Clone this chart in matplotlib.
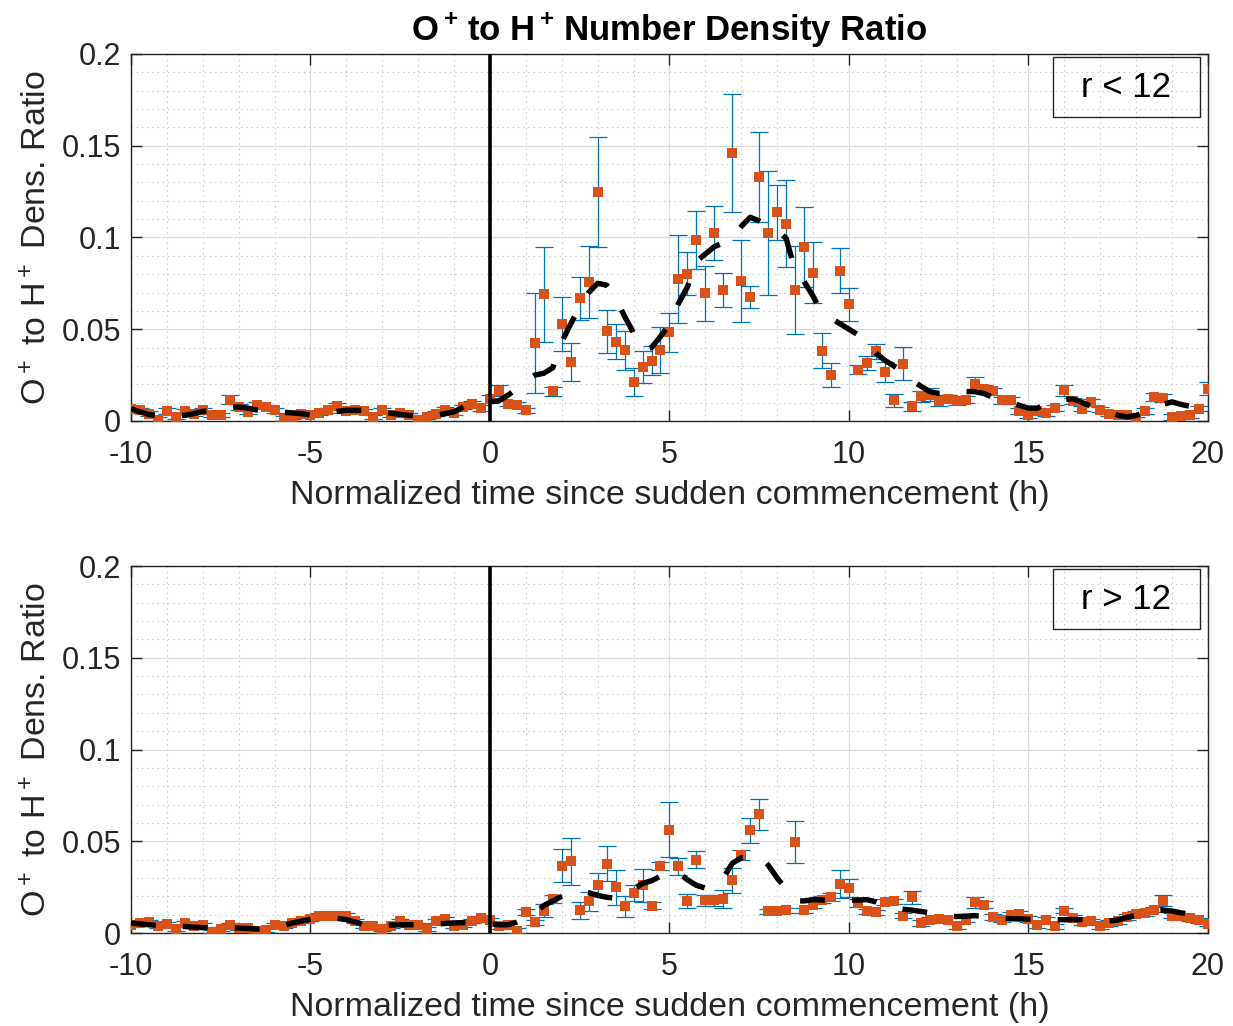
import matplotlib
matplotlib.use("Agg")
import matplotlib.pyplot as plt
import numpy as np
from matplotlib.patches import Rectangle
from matplotlib.ticker import MultipleLocator

plt.rcParams["font.family"] = ["Liberation Sans", "DejaVu Sans"]
plt.rcParams["mathtext.fontset"] = "custom"
plt.rcParams["mathtext.rm"] = "Liberation Sans"
plt.rcParams["mathtext.bf"] = "Liberation Sans:bold"
plt.rcParams["mathtext.default"] = "regular"

# time bins (h), 0.25 h apart
hours = np.arange(-10, 20.001, 0.25)

# ---- r < 12 ----
ratio_in = [
    0.0067, 0.0058, 0.0040, 0.0007,
    0.0055, 0.0022, 0.0055, 0.0040,
    0.0058, 0.0031, 0.0031, 0.0116,
    0.0076, 0.0049, 0.0089, 0.0076,
    0.0058, 0.0013, 0.0022, 0.0040,
    0.0031, 0.0044, 0.0058, 0.0082,
    0.0055, 0.0058, 0.0055, 0.0022,
    0.0058, 0.0031, 0.0044, 0.0031,
    0.0007, 0.0022, 0.0040, 0.0062,
    0.0044, 0.0076, 0.0095, 0.0071,
    0.0120, 0.0164, 0.0095, 0.0089,
    0.0058, 0.0425, 0.0690, 0.0162,
    0.0527, 0.0320, 0.0669, 0.0758,
    0.1249, 0.0490, 0.0431, 0.0385,
    0.0213, 0.0295, 0.0327, 0.0385,
    0.0484, 0.0775, 0.0802, 0.0987,
    0.0695, 0.1025, 0.0716, 0.1460,
    0.0762, 0.0676, 0.1329, 0.1024,
    0.1138, 0.1076, 0.0713, 0.0949,
    0.0809, 0.0382, 0.0251, 0.0818,
    0.0635, 0.0280, 0.0316, 0.0380,
    0.0265, 0.0113, 0.0313, 0.0080,
    0.0135, 0.0144, 0.0107, 0.0122,
    0.0107, 0.0116, 0.0200, 0.0176,
    0.0162, 0.0113, 0.0113, 0.0055,
    0.0031, 0.0055, 0.0044, 0.0071,
    0.0167, 0.0109, 0.0067, 0.0104,
    0.0062, 0.0040, 0.0031, 0.0031,
    0.0007, 0.0055, 0.0131, 0.0125,
    0.0022, 0.0027, 0.0031, 0.0067,
    0.0175,
]
err_in = [
    0.0015, 0.0015, 0.0012, 0.0012,
    0.0015, 0.0012, 0.0012, 0.0012,
    0.0015, 0.0012, 0.0012, 0.0025,
    0.0015, 0.0012, 0.0015, 0.0012,
    0.0012, 0.0012, 0.0012, 0.0012,
    0.0012, 0.0012, 0.0012, 0.0015,
    0.0012, 0.0012, 0.0012, 0.0012,
    0.0012, 0.0012, 0.0012, 0.0012,
    0.0012, 0.0012, 0.0012, 0.0015,
    0.0012, 0.0012, 0.0015, 0.0015,
    0.0020, 0.0030, 0.0015, 0.0015,
    0.0015, 0.0270, 0.0260, 0.0025,
    0.0147, 0.0103, 0.0117, 0.0197,
    0.0300, 0.0117, 0.0096, 0.0107,
    0.0075, 0.0086, 0.0079, 0.0126,
    0.0107, 0.0240, 0.0117, 0.0157,
    0.0148, 0.0147, 0.0093, 0.0320,
    0.0225, 0.0060, 0.0247, 0.0340,
    0.0150, 0.0236, 0.0240, 0.0218,
    0.0167, 0.0096, 0.0064, 0.0122,
    0.0090, 0.0025, 0.0036, 0.0040,
    0.0055, 0.0035, 0.0090, 0.0025,
    0.0030, 0.0034, 0.0024, 0.0020,
    0.0020, 0.0020, 0.0040, 0.0020,
    0.0020, 0.0020, 0.0020, 0.0015,
    0.0015, 0.0015, 0.0015, 0.0015,
    0.0030, 0.0015, 0.0015, 0.0015,
    0.0015, 0.0012, 0.0012, 0.0012,
    0.0012, 0.0015, 0.0020, 0.0020,
    0.0015, 0.0015, 0.0015, 0.0015,
    0.0036,
]
smooth_in = [
    0.0067, 0.0050, 0.0035, 0.0030,
    0.0030, 0.0030, 0.0031, 0.0040,
    0.0052, 0.0060, 0.0070, 0.0074,
    0.0076, 0.0070, 0.0060, 0.0055,
    0.0050, 0.0047, 0.0044, 0.0040,
    0.0033, 0.0040, 0.0045, 0.0052,
    0.0058, 0.0058, 0.0058, 0.0055,
    0.0050, 0.0042, 0.0036, 0.0030,
    0.0027, 0.0028, 0.0030, 0.0040,
    0.0050, 0.0075, 0.0098, 0.0105,
    0.0105, 0.0110, 0.0140, 0.0176,
    0.0220, 0.0250, 0.0260, 0.0290,
    0.0430, 0.0530, 0.0620, 0.0700,
    0.0750, 0.0740, 0.0670, 0.0570,
    0.0480, 0.0390, 0.0400, 0.0460,
    0.0530, 0.0640, 0.0730, 0.0870,
    0.0910, 0.0950, 0.0970, 0.1000,
    0.1060, 0.1110, 0.1090, 0.1060,
    0.1040, 0.0995, 0.0820, 0.0760,
    0.0680, 0.0585, 0.0560, 0.0530,
    0.0500, 0.0470, 0.0430, 0.0370,
    0.0330, 0.0300, 0.0270, 0.0220,
    0.0190, 0.0160, 0.0150, 0.0150,
    0.0160, 0.0160, 0.0160, 0.0150,
    0.0130, 0.0120, 0.0100, 0.0085,
    0.0070, 0.0070, 0.0095, 0.0110,
    0.0118, 0.0120, 0.0100, 0.0080,
    0.0065, 0.0050, 0.0030, 0.0022,
    0.0030, 0.0050, 0.0067, 0.0090,
    0.0104, 0.0090, 0.0080, 0.0120,
    0.0176,
]

# ---- r > 12 ----
ratio_out = [
    0.0045, 0.0055, 0.0060, 0.0040,
    0.0049, 0.0022, 0.0055, 0.0036,
    0.0045, 0.0008, 0.0022, 0.0045,
    0.0027, 0.0027, 0.0010, 0.0018,
    0.0045, 0.0036, 0.0055, 0.0064,
    0.0076, 0.0095, 0.0095, 0.0095,
    0.0095, 0.0064, 0.0036, 0.0040,
    0.0022, 0.0040, 0.0064, 0.0045,
    0.0045, 0.0022, 0.0064, 0.0076,
    0.0040, 0.0045, 0.0064, 0.0082,
    0.0070, 0.0036, 0.0045, 0.0013,
    0.0113, 0.0058, 0.0122, 0.0185,
    0.0367, 0.0390, 0.0124, 0.0173,
    0.0264, 0.0378, 0.0249, 0.0145,
    0.0218, 0.0260, 0.0149, 0.0364,
    0.0564, 0.0364, 0.0176, 0.0400,
    0.0178, 0.0178, 0.0185, 0.0287,
    0.0427, 0.0560, 0.0647, 0.0118,
    0.0122, 0.0124, 0.0495, 0.0124,
    0.0155, 0.0182, 0.0196, 0.0269,
    0.0245, 0.0164, 0.0118, 0.0113,
    0.0169, 0.0173, 0.0095, 0.0196,
    0.0055, 0.0073, 0.0076, 0.0073,
    0.0036, 0.0073, 0.0167, 0.0155,
    0.0087, 0.0073, 0.0100, 0.0105,
    0.0076, 0.0045, 0.0073, 0.0036,
    0.0122, 0.0082, 0.0058, 0.0064,
    0.0036, 0.0055, 0.0064, 0.0087,
    0.0104, 0.0109, 0.0127, 0.0176,
    0.0095, 0.0095, 0.0082, 0.0069,
    0.0051,
]
err_out = [
    0.0010, 0.0010, 0.0010, 0.0010,
    0.0010, 0.0010, 0.0010, 0.0010,
    0.0010, 0.0010, 0.0010, 0.0010,
    0.0010, 0.0010, 0.0010, 0.0010,
    0.0010, 0.0010, 0.0010, 0.0010,
    0.0010, 0.0012, 0.0012, 0.0012,
    0.0012, 0.0010, 0.0010, 0.0010,
    0.0010, 0.0010, 0.0010, 0.0010,
    0.0010, 0.0010, 0.0010, 0.0010,
    0.0010, 0.0010, 0.0010, 0.0010,
    0.0012, 0.0012, 0.0012, 0.0015,
    0.0017, 0.0012, 0.0035, 0.0023,
    0.0090, 0.0130, 0.0045, 0.0052,
    0.0064, 0.0095, 0.0094, 0.0055,
    0.0045, 0.0090, 0.0020, 0.0022,
    0.0150, 0.0045, 0.0038, 0.0045,
    0.0032, 0.0032, 0.0048, 0.0069,
    0.0027, 0.0067, 0.0084, 0.0015,
    0.0015, 0.0015, 0.0116, 0.0015,
    0.0020, 0.0020, 0.0020, 0.0077,
    0.0048, 0.0020, 0.0015, 0.0015,
    0.0015, 0.0015, 0.0015, 0.0035,
    0.0015, 0.0015, 0.0015, 0.0015,
    0.0015, 0.0015, 0.0030, 0.0020,
    0.0015, 0.0015, 0.0015, 0.0015,
    0.0015, 0.0015, 0.0015, 0.0015,
    0.0015, 0.0015, 0.0015, 0.0015,
    0.0015, 0.0015, 0.0015, 0.0015,
    0.0015, 0.0015, 0.0015, 0.0030,
    0.0015, 0.0015, 0.0015, 0.0015,
    0.0015,
]
smooth_out = [
    0.0055, 0.0050, 0.0045, 0.0042,
    0.0040, 0.0038, 0.0036, 0.0032,
    0.0030, 0.0028, 0.0028, 0.0027,
    0.0027, 0.0025, 0.0022, 0.0025,
    0.0030, 0.0040, 0.0055, 0.0065,
    0.0075, 0.0082, 0.0085, 0.0080,
    0.0073, 0.0060, 0.0045, 0.0043,
    0.0042, 0.0043, 0.0045, 0.0045,
    0.0045, 0.0047, 0.0050, 0.0052,
    0.0055, 0.0057, 0.0058, 0.0055,
    0.0050, 0.0045, 0.0045, 0.0060,
    0.0080, 0.0110, 0.0150, 0.0175,
    0.0200, 0.0220, 0.0230, 0.0220,
    0.0205, 0.0195, 0.0190, 0.0210,
    0.0240, 0.0270, 0.0285, 0.0310,
    0.0340, 0.0330, 0.0290, 0.0260,
    0.0245, 0.0250, 0.0300, 0.0380,
    0.0410, 0.0415, 0.0420, 0.0370,
    0.0300, 0.0240, 0.0175, 0.0175,
    0.0182, 0.0180, 0.0175, 0.0173,
    0.0178, 0.0180, 0.0182, 0.0170,
    0.0150, 0.0136, 0.0130, 0.0125,
    0.0118, 0.0110, 0.0097, 0.0092,
    0.0090, 0.0092, 0.0095, 0.0090,
    0.0083, 0.0080, 0.0078, 0.0077,
    0.0076, 0.0075, 0.0073, 0.0073,
    0.0073, 0.0073, 0.0073, 0.0070,
    0.0065, 0.0065, 0.0072, 0.0085,
    0.0097, 0.0110, 0.0122, 0.0125,
    0.0120, 0.0110, 0.0105, 0.0085,
    0.0064,
]

panels = [
    (ratio_in, err_in, smooth_in, "r < 12"),
    (ratio_out, err_out, smooth_out, "r > 12"),
]

x_ticks = [-10, -5, 0, 5, 10, 15, 20]
y_ticks = [0, 0.05, 0.1, 0.15, 0.2]
y_tick_labels = ["0", "0.05", "0.1", "0.15", "0.2"]

err_color = "#0072BD"
marker_color = "#D95319"
axis_color = "#262626"

fig = plt.figure(figsize=(12.33, 10.26), dpi=100)
ax_top = fig.add_axes([0.1062, 0.5897, 0.8735, 0.3577])
ax_bot = fig.add_axes([0.1062, 0.0906, 0.8735, 0.3577])

for ax, (ratio, err, smooth, label) in zip([ax_top, ax_bot], panels):
    ax.errorbar(hours, ratio, yerr=err, fmt="none", ecolor=err_color,
                elinewidth=0.9, capsize=6.5, capthick=0.9, zorder=3)
    ax.plot(hours, ratio, "s", color=marker_color, markersize=6.6,
            markeredgewidth=0, zorder=4)
    ax.plot(hours, smooth, color="black", linewidth=3.9,
            linestyle=(0, (4.6, 5.0)), dash_capstyle="butt", zorder=5)
    ax.axvline(0, color="black", linewidth=2.6, zorder=6)

    ax.set_xlim(-10, 20)
    ax.set_ylim(0, 0.2)
    ax.set_xticks(x_ticks)
    ax.set_xticklabels([str(t) for t in x_ticks])
    ax.set_yticks(y_ticks)
    ax.set_yticklabels(y_tick_labels)
    ax.xaxis.set_minor_locator(MultipleLocator(1))
    ax.yaxis.set_minor_locator(MultipleLocator(0.01))
    ax.grid(which="major", color="#dcdcdc", linewidth=0.9, zorder=0)
    ax.grid(which="minor", color="#c4c4c4", linewidth=0.8,
            linestyle=(0, (1.2, 3.5)), zorder=0)
    ax.set_axisbelow(True)
    ax.tick_params(which="major", direction="in", length=8, width=1.0,
                   top=True, right=True, labelsize=22, colors=axis_color)
    ax.tick_params(axis="x", which="major", pad=14)
    ax.tick_params(axis="y", which="major", pad=7)
    ax.tick_params(which="minor", length=0)
    for sp in ax.spines.values():
        sp.set_color(axis_color)
        sp.set_linewidth(1.0)

    ax.set_xlabel("Normalized time since sudden commencement (h)",
                  fontsize=24.5, color=axis_color, labelpad=7)
    ax.set_ylabel("O$^+$ to H$^+$ Dens. Ratio", fontsize=24.5,
                  color=axis_color, labelpad=6)

    ax.add_patch(Rectangle((0.856, 0.828), 0.1365, 0.164,
                           transform=ax.transAxes, fill=False,
                           edgecolor=axis_color, linewidth=1.0, zorder=7))
    ax.text(0.924, 0.908, label, transform=ax.transAxes, fontsize=25,
            ha="center", va="center", color="black", zorder=8)

ax_top.set_title(r"O$^{\bf +}\!$ to H$^{\bf +}\!$ Number Density Ratio",
                 fontsize=25, fontweight="bold", pad=10)

fig.savefig("out.png", dpi=100)
